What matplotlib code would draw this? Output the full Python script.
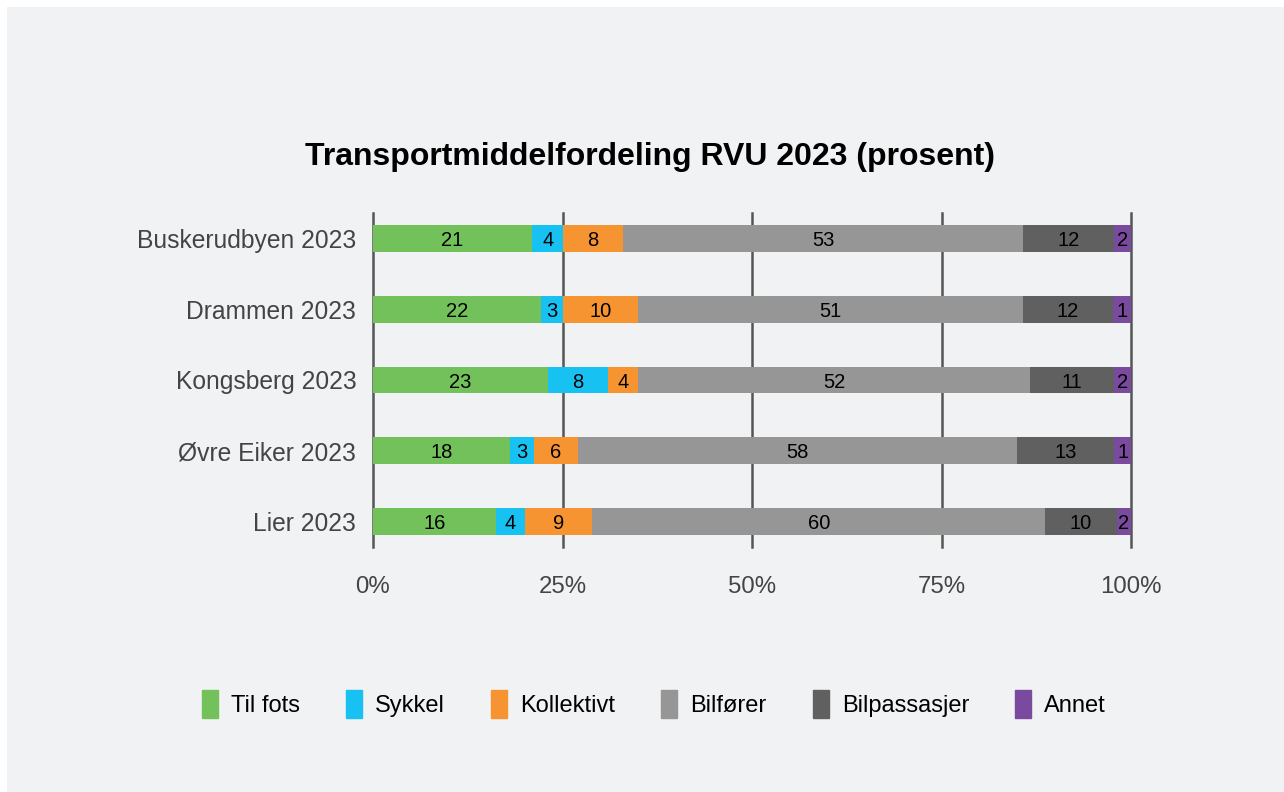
import matplotlib.pyplot as plt
import matplotlib.patches as mpatches
import numpy as np

plt.rcParams['font.family'] = ['Liberation Sans', 'DejaVu Sans']

# Categories (top to bottom)
areas = ["Buskerudbyen 2023", "Drammen 2023", "Kongsberg 2023", "Øvre Eiker 2023", "Lier 2023"]
modes = ["Til fots", "Sykkel", "Kollektivt", "Bilfører", "Bilpassasjer", "Annet"]

# Bar shares (percent)
til_fots = [21.0, 22.1, 23.1, 18.1, 16.2]
sykkel = [4.1, 3.0, 7.9, 3.1, 3.9]
kollektivt = [7.9, 9.9, 4.0, 5.9, 8.8]
bilforer = [52.8, 50.8, 51.7, 57.8, 59.8]
bilpassasjer = [12.0, 11.8, 11.1, 12.9, 9.4]
annet = [2.2, 2.4, 2.2, 2.2, 1.9]

# Data labels as printed on the bars
lbl_til_fots = [21, 22, 23, 18, 16]
lbl_sykkel = [4, 3, 8, 3, 4]
lbl_kollektivt = [8, 10, 4, 6, 9]
lbl_bilforer = [53, 51, 52, 58, 60]
lbl_bilpassasjer = [12, 12, 11, 13, 10]
lbl_annet = [2, 1, 2, 1, 2]

series = [til_fots, sykkel, kollektivt, bilforer, bilpassasjer, annet]
labels = [lbl_til_fots, lbl_sykkel, lbl_kollektivt, lbl_bilforer, lbl_bilpassasjer, lbl_annet]
colors = ["#73c15a", "#17c1f2", "#f79432", "#969696", "#606060", "#794a9d"]

bg = "#f1f2f4"
fig = plt.figure(figsize=(12.84, 7.92), dpi=100)
fig.patch.set_facecolor("white")
fig.patches.append(mpatches.Rectangle((7 / 1284, 0), 1, 1 - 7 / 792, transform=fig.transFigure,
                                      facecolor=bg, edgecolor="none", zorder=-10))

ax = fig.add_axes([373 / 1284, 1 - 547 / 792, (1131 - 373) / 1284, (547 - 213) / 792])
ax.set_facecolor(bg)

y = np.arange(len(areas))
left = np.zeros(len(areas))
for vals, lbls, col, name in zip(series, labels, colors, modes):
    vals = np.array(vals)
    ax.barh(y, vals, left=left, height=0.38, color=col, label=name, zorder=3)
    for yi, l, v, t in zip(y, left, vals, lbls):
        ax.text(l + v / 2, yi + 0.03, str(t), ha="center", va="center", fontsize=14.5,
                color="black", zorder=4)
    left = left + vals

ax.set_xlim(0, 100)
ax.set_ylim(4.36, -0.36)
ax.set_xticks([0, 25, 50, 75, 100])
ax.set_xticklabels(["0%", "25%", "50%", "75%", "100%"])
ax.set_yticks(y)
ax.set_yticklabels(areas)
ax.tick_params(axis="x", length=0, pad=21, labelsize=17.3, labelcolor="#444444")
ax.tick_params(axis="y", length=0, pad=12, labelsize=17.7, labelcolor="#444444")
for s in ax.spines.values():
    s.set_visible(False)
ax.grid(axis="x", color="#555555", linewidth=1.8, zorder=1)
ax.grid(axis="y", visible=False)
for gl in ax.get_xgridlines():
    gl.set_clip_on(False)

fig.text(650 / 1284, 1 - 157 / 792, "Transportmiddelfordeling RVU 2023 (prosent)",
         ha="center", va="center", fontsize=23, fontweight="bold", color="black")

handles = [mpatches.Patch(color=c, label=m) for c, m in zip(colors, modes)]
fig.legend(handles=handles, loc="center", bbox_to_anchor=(654 / 1284, 1 - 704 / 792), ncol=6,
           frameon=False, fontsize=17, handlelength=0.68, handleheight=1.4,
           handletextpad=0.55, columnspacing=1.95)

fig.savefig("out.png", dpi=100, facecolor=fig.get_facecolor())
